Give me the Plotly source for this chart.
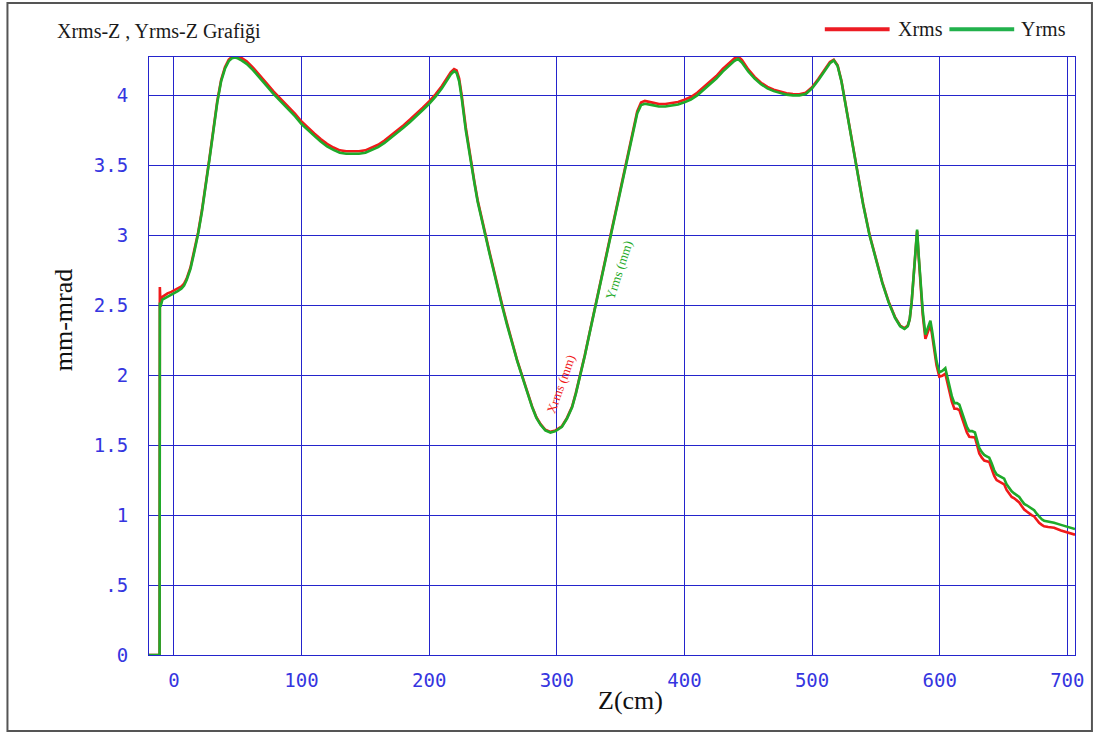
import plotly.graph_objects as go

# ---------------- data ----------------
z_cm = [-19.5, -11.2, -11.0, -10.5, -9, -7, -5, -2, 0, 3, 6, 8, 10, 13, 16, 19, 22, 25, 28, 31, 34, 37, 40, 43,
        45.5, 47.7, 50, 53, 57, 62, 67, 72, 78, 85, 90, 95, 100, 105, 110, 115, 120, 125, 130, 135, 140, 145,
        150, 155, 160, 165, 170, 175, 180, 185, 190, 195, 200, 205, 210, 214, 217, 219.5, 221.5, 223.5, 225.5,
        228.7, 231, 233, 235.5, 238, 241, 244.5, 247, 250, 253.5, 257, 261, 265, 269, 272.9, 276.8, 280.7, 284,
        287.3, 291, 295, 299, 304, 308, 312, 315, 318.5,
        322, 325, 330, 335, 340, 345, 350, 355, 360, 363, 366, 369, 375, 380, 385, 390, 395, 400, 405, 410, 415,
        420, 425, 430, 435, 439, 442, 445, 450, 455, 460, 465, 470, 475, 480, 485, 490, 495, 500, 505, 510, 514,
        517, 520, 523, 526, 530, 535, 540, 545, 550, 555, 560, 565, 569, 572.4, 575, 576.5, 578, 579, 580.5,
        582.3, 583.5, 584.9, 586.7, 588.8, 590.5, 592.7, 594, 595.8, 597.5, 599.7, 602, 604.4, 606, 607.6,
        609.5, 611.5, 613.5, 615.4, 617.3, 619.3, 621.3, 623.2, 625.4, 627.6, 629.3, 631, 633, 634.9, 636.8,
        638.8, 640.7, 642.7, 644.6, 646.6, 648.5, 650.5, 652.4, 654.4, 656.4, 658.4, 660.3, 662.3, 664.2, 666.2,
        668.2, 670.1, 672, 674, 676, 677.9, 680, 681.8, 685, 689.6, 695, 700, 706]

yrms = [0, 0, 2.52, 2.49, 2.54, 2.55, 2.56, 2.57, 2.585, 2.60, 2.62, 2.64, 2.68, 2.76, 2.88, 3.01, 3.17, 3.35,
        3.55, 3.75, 3.95, 4.10, 4.19, 4.245, 4.265, 4.27, 4.265, 4.25, 4.225, 4.18, 4.13, 4.075, 4.01, 3.945,
        3.90, 3.85, 3.795, 3.75, 3.71, 3.67, 3.635, 3.61, 3.59, 3.582, 3.58, 3.582, 3.59, 3.61, 3.63, 3.66,
        3.695, 3.73, 3.77, 3.81, 3.85, 3.895, 3.94, 3.99, 4.05, 4.105, 4.15, 4.172, 4.16, 4.10, 3.98, 3.75,
        3.615, 3.50, 3.37, 3.24, 3.11, 2.98, 2.88, 2.76, 2.63, 2.50, 2.36, 2.225, 2.10, 1.99, 1.875, 1.77, 1.695,
        1.645, 1.605, 1.59, 1.60, 1.63, 1.69, 1.77, 1.87, 2.00,
        2.14, 2.27, 2.48, 2.70, 2.91, 3.12, 3.33, 3.55, 3.76, 3.87, 3.93, 3.94, 3.93, 3.92, 3.92, 3.925, 3.935,
        3.95, 3.97, 4.00, 4.04, 4.08, 4.12, 4.17, 4.21, 4.245, 4.26, 4.235, 4.17, 4.12, 4.08, 4.05, 4.03, 4.015,
        4.005, 4.0, 4.0, 4.01, 4.05, 4.11, 4.18, 4.23, 4.25, 4.21, 4.10, 3.95, 3.74, 3.48, 3.22, 3.00, 2.82,
        2.66, 2.52, 2.41, 2.35, 2.33, 2.35, 2.40, 2.52, 2.65, 2.86, 3.04, 2.86, 2.65, 2.46, 2.29, 2.33, 2.39,
        2.32, 2.20, 2.10, 2.02, 2.03, 2.05, 1.99, 1.92, 1.85, 1.80, 1.80, 1.79, 1.74, 1.68, 1.63, 1.60, 1.60,
        1.59, 1.54, 1.48, 1.45, 1.43, 1.42, 1.41, 1.37, 1.32, 1.29, 1.28, 1.275, 1.26, 1.22, 1.19, 1.17, 1.155,
        1.145, 1.13, 1.105, 1.08, 1.07, 1.06, 1.05, 1.035, 1.01, 0.99, 0.97, 0.96, 0.955, 0.945, 0.93, 0.915,
        0.90]

xrms = [0, 0, 2.63, 2.50, 2.56, 2.575, 2.585, 2.595, 2.605, 2.615, 2.635, 2.655, 2.69, 2.77, 2.89, 3.02, 3.18,
        3.36, 3.56, 3.76, 3.96, 4.11, 4.20, 4.255, 4.275, 4.283, 4.28, 4.267, 4.243, 4.198, 4.148, 4.093, 4.028,
        3.963, 3.918, 3.868, 3.813, 3.768, 3.728, 3.688, 3.653, 3.627, 3.607, 3.60, 3.598, 3.60, 3.607, 3.627,
        3.647, 3.677, 3.712, 3.747, 3.787, 3.827, 3.867, 3.912, 3.957, 4.007, 4.067, 4.122, 4.167, 4.188, 4.178,
        4.12, 4.0, 3.77, 3.63, 3.51, 3.38, 3.25, 3.12, 2.99, 2.89, 2.77, 2.64, 2.51, 2.37, 2.235, 2.105, 1.995,
        1.88, 1.775, 1.70, 1.65, 1.61, 1.595, 1.605, 1.635,
        1.695, 1.775, 1.875, 2.005, 2.145, 2.275, 2.485, 2.705, 2.915, 3.125, 3.335, 3.555, 3.77, 3.885, 3.948,
        3.96, 3.948, 3.938, 3.938, 3.943, 3.953, 3.968, 3.988, 4.018, 4.058, 4.098, 4.138, 4.188, 4.228, 4.263,
        4.278, 4.253, 4.185, 4.132, 4.09, 4.06, 4.04, 4.025, 4.015, 4.01, 4.008, 4.018, 4.058, 4.118, 4.188,
        4.238, 4.255, 4.215, 4.105, 3.955, 3.745, 3.485, 3.225, 3.005, 2.825, 2.665, 2.525, 2.415, 2.355, 2.335,
        2.355, 2.40, 2.52, 2.65, 2.86, 3.03, 2.85, 2.63, 2.43, 2.26, 2.30, 2.36, 2.29, 2.17, 2.07, 1.99, 1.995,
        2.01, 1.95, 1.88, 1.81, 1.76, 1.76, 1.75, 1.70, 1.64, 1.59, 1.56, 1.56, 1.555, 1.50, 1.44, 1.41, 1.39,
        1.385, 1.38, 1.33, 1.28, 1.25, 1.24, 1.235, 1.22, 1.18, 1.15, 1.13, 1.12, 1.105, 1.09, 1.065, 1.04,
        1.025, 1.01, 1.0, 0.99, 0.965, 0.945, 0.93, 0.92, 0.915, 0.91, 0.89, 0.875, 0.86]

x_tickvals = [0, 100, 200, 300, 400, 500, 600, 700]
x_ticktext = ["0", "100", "200", "300", "400", "500", "600", "700"]
y_tickvals = [0, 0.5, 1, 1.5, 2, 2.5, 3, 3.5, 4]
y_ticktext = ["0", ".5", "1", "1.5", "2", "2.5", "3", "3.5", "4"]

# ---------------- style ----------------
RED = "#f01a1a"
GREEN = "#1faa2a"
GRID = "#2424cc"
TICK = "#3535e0"
SERIF = "Liberation Serif, Times New Roman, serif"
MONO = "DejaVu Sans Mono, monospace"

W, H = 1096, 733
L, R, T, B = 149, 18, 57, 78
PW, PH = W - L - R, H - T - B


def px_x(p):
    return (p - L) / PW


def px_y(p):
    return (H - B - p) / PH


fig = go.Figure()
fig.add_trace(go.Scatter(x=z_cm, y=xrms, mode="lines", name="Xrms",
                         line=dict(color=RED, width=2.6), showlegend=False))
fig.add_trace(go.Scatter(x=z_cm, y=yrms, mode="lines", name="Yrms",
                         line=dict(color=GREEN, width=2.6), showlegend=False))

axis_common = dict(showgrid=True, gridcolor=GRID, gridwidth=1, showline=True, linecolor=GRID,
                   linewidth=1, mirror=True, zeroline=False, ticks="",
                   tickfont=dict(family=MONO, size=19, color=TICK))

fig.update_layout(
    width=W, height=H,
    margin=dict(l=L, r=R, t=T, b=B, pad=0),
    paper_bgcolor="white", plot_bgcolor="white",
    xaxis=dict(range=[-19.5, 706], tickvals=x_tickvals, ticktext=x_ticktext,
               ticklabelstandoff=8, **axis_common),
    yaxis=dict(range=[0, 4.274], tickvals=y_tickvals, ticktext=y_ticktext,
               ticklabelstandoff=16, **axis_common),
    showlegend=False,
)

shapes = [
    # outer frame
    dict(type="rect", xref="paper", yref="paper", x0=px_x(7), x1=px_x(1095), y0=px_y(731), y1=px_y(3),
         line=dict(color="#555555", width=2), fillcolor="rgba(0,0,0,0)", layer="above"),
    # legend lines
    dict(type="line", xref="paper", yref="paper", x0=px_x(827), x1=px_x(892), y0=px_y(29.3), y1=px_y(29.3),
         line=dict(color="#ed1c24", width=4)),
    dict(type="line", xref="paper", yref="paper", x0=px_x(952), x1=px_x(1017), y0=px_y(29.3), y1=px_y(29.3),
         line=dict(color="#22b14c", width=4)),
]
fig.update_layout(shapes=shapes)

ann = [
    dict(text="Xrms-Z , Yrms-Z Grafiği", x=px_x(55), y=px_y(32), xanchor="left", yanchor="middle",
         font=dict(family=SERIF, size=20, color="#1a1a1a")),
    dict(text="Xrms", x=px_x(898), y=px_y(29), xanchor="left", yanchor="middle",
         font=dict(family=SERIF, size=20, color="#1a1a1a")),
    dict(text="Yrms", x=px_x(1022), y=px_y(29), xanchor="left", yanchor="middle",
         font=dict(family=SERIF, size=20, color="#1a1a1a")),
    dict(text="mm-mrad", x=px_x(63), y=px_y(320), xanchor="center", yanchor="middle", textangle=-90,
         font=dict(family=SERIF, size=26, color="#111111")),
    dict(text="Z(cm)", x=px_x(632), y=px_y(700), xanchor="center", yanchor="middle",
         font=dict(family=SERIF, size=26, color="#111111")),
    dict(text="Xrms (mm)", x=px_x(561.7), y=px_y(384), xanchor="center", yanchor="middle", textangle=-70,
         font=dict(family=SERIF, size=13, color=RED)),
    dict(text="Yrms (mm)", x=px_x(620), y=px_y(270), xanchor="center", yanchor="middle", textangle=-72,
         font=dict(family=SERIF, size=13, color=GREEN)),
]
for a in ann:
    a.update(xref="paper", yref="paper", showarrow=False)
fig.update_layout(annotations=ann)

fig.write_html("out.html")
